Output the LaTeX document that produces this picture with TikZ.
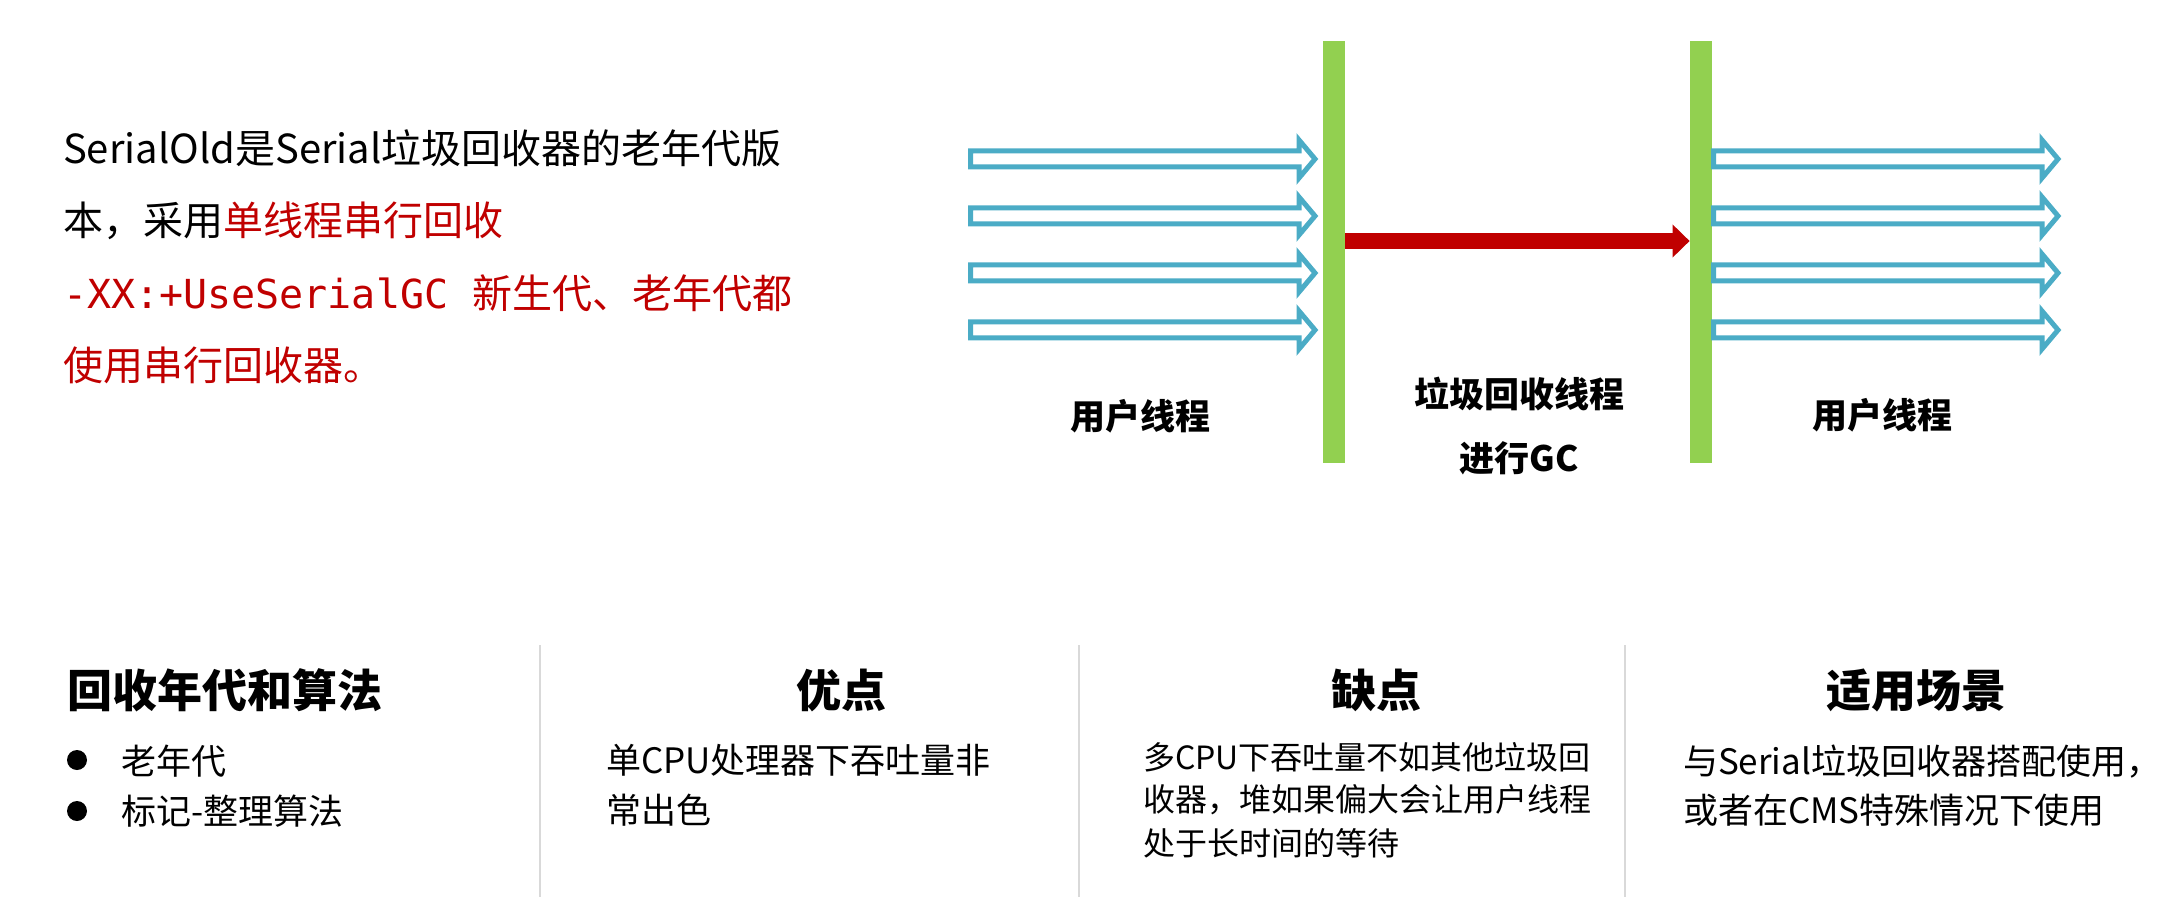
\documentclass[tikz,border=0pt]{standalone}
\usepackage{fontspec}
\setmainfont{Noto Sans CJK SC}
\newfontfamily\codefont{DejaVu Sans Mono}
\usetikzlibrary{arrows.meta}
\definecolor{gcred}{HTML}{C00000}
\definecolor{thblue}{HTML}{4BACC6}
\definecolor{bargreen}{HTML}{92D050}
\definecolor{divgray}{HTML}{D9D9D9}
\begin{document}
\begin{tikzpicture}[x=0.5pt,y=-0.5pt,
  txt/.style={anchor=west, inner sep=0pt, outer sep=0pt},
  bigtxt/.style={txt, font=\fontsize{20pt}{24pt}\selectfont},
  lbl/.style={inner sep=0pt, outer sep=0pt, font=\bfseries\fontsize{17.5pt}{21pt}\selectfont},
  headtxt/.style={inner sep=0pt, outer sep=0pt, font=\bfseries\fontsize{22.5pt}{27pt}\selectfont},
  bodytxt/.style={txt, font=\fontsize{17.5pt}{21pt}\selectfont},
  smalltxt/.style={txt, font=\fontsize{16pt}{19pt}\selectfont},
  gcbar/.style={rectangle, fill=bargreen, draw=none, inner sep=0pt, minimum width=11pt, minimum height=211pt},
  bulletdot/.style={circle, fill=black, inner sep=0pt, minimum size=10pt},
  divider/.style={draw=divgray, line width=0.75pt},
  hollowarrow/.pic={\draw[thblue, line width=2.5pt, fill=white, line join=miter]
      (2.5,-8) -- (331,-8) -- (331,-19) -- (347,0) -- (331,19) -- (331,8) -- (2.5,8) -- cycle;}
]
\useasboundingbox (0,0) rectangle (2171,919);

% ---- left description ----
\node[bigtxt] (d1) at (63,148) {SerialOld是Serial垃圾回收器的老年代版};
\node[bigtxt] (d2) at (63,221) {本，采用\textcolor{gcred}{单线程串行回收}};
\node[bigtxt, text=gcred] (d3) at (63,293) {{\codefont -XX:+UseSerialGC~}新生代、老年代都};
\node[bigtxt, text=gcred] (d4) at (63,365) {使用串行回收器。};

% ---- thread diagram ----
\node[gcbar] (bar1) at (1334,252) {};
\node[gcbar] (bar2) at (1701,252) {};

\foreach \yy/\nm in {159/a,216/b,273/c,330/d}{
  \pic (left\nm) at (968,\yy) {hollowarrow};
  \pic (right\nm) at (1711,\yy) {hollowarrow};
}

\coordinate (ry) at (0,241);
\draw[gcred, line width=8pt, -{Triangle[length=8.5pt, width=16pt]}] (bar1.east |- ry) -- (bar2.west |- ry);

\node[lbl] (ut1) at (1140,416) {用户线程};
\node[lbl] (gc1) at (1519,394) {垃圾回收线程};
\node[lbl] (gc2) at (1519,458) {进行GC};
\node[lbl] (ut2) at (1882,415) {用户线程};

% ---- bottom table ----
\draw[divider] (540,645) -- (540,897);
\draw[divider] (1079,645) -- (1079,897);
\draw[divider] (1625,645) -- (1625,897);

\node[headtxt, anchor=west] (h1) at (67,690) {回收年代和算法};
\node[headtxt] (h2) at (841,690) {优点};
\node[headtxt] (h3) at (1376,690) {缺点};
\node[headtxt] (h4) at (1916,690) {适用场景};

\node[bulletdot] (b1) at (77,760) {};
\node[bulletdot] (b2) at (77,811) {};
\node[bodytxt] (t1) at (121,761) {老年代};
\node[bodytxt] (t2) at (121,811) {标记-整理算法};

\node[bodytxt] (p1) at (606,760) {单CPU处理器下吞吐量非};
\node[bodytxt] (p2) at (606,810) {常出色};

\node[smalltxt] (c1) at (1143,757) {多CPU下吞吐量不如其他垃圾回};
\node[smalltxt] (c2) at (1143,800) {收器，堆如果偏大会让用户线程};
\node[smalltxt] (c3) at (1143,843) {处于长时间的等待};

\node[bodytxt] (s1) at (1683,762) {与Serial垃圾回收器搭配使用，};
\node[bodytxt] (s2) at (1683,810) {或者在CMS特殊情况下使用};
\end{tikzpicture}
\end{document}
